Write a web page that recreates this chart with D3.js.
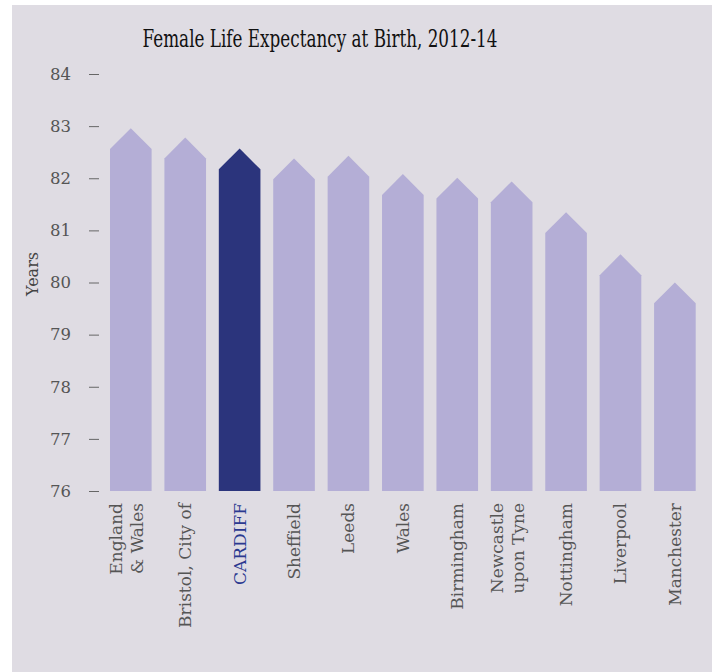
<!DOCTYPE html>
<html>
<head>
<meta charset="utf-8">
<script src="https://cdn.jsdelivr.net/npm/d3@7"></script>
<style>
  html, body { margin: 0; padding: 0; background: #ffffff; }
  svg { display: block; }
  text { font-family: "DejaVu Serif", "Liberation Serif", serif; }
</style>
</head>
<body>
<svg id="chart" width="716" height="672"></svg>
<script>
// ---- data ----
const categories = ["England & Wales", "Bristol, City of", "CARDIFF", "Sheffield", "Leeds", "Wales",
                    "Birmingham", "Newcastle upon Tyne", "Nottingham", "Liverpool", "Manchester"];
const labelLines = [["England", "& Wales"], ["Bristol, City of"], ["CARDIFF"], ["Sheffield"], ["Leeds"], ["Wales"],
                    ["Birmingham"], ["Newcastle", "upon Tyne"], ["Nottingham"], ["Liverpool"], ["Manchester"]];
const values = [82.96, 82.78, 82.57, 82.38, 82.43, 82.08, 82.01, 81.94, 81.35, 80.54, 80.0];
const highlight = "CARDIFF";
const yTicks = [76, 77, 78, 79, 80, 81, 82, 83, 84];
const title = "Female Life Expectancy at Birth, 2012-14";
const yLabel = "Years";

// ---- drawing ----
const svg = d3.select("#chart");
svg.append("rect").attr("x", 12).attr("y", 5).attr("width", 700).attr("height", 667).attr("fill", "#dfdce3");

const x = d3.scaleBand().domain(categories).range([110, 695.7]).paddingInner(0.235).paddingOuter(0);
const y = d3.scaleLinear().domain([76, 84]).range([491, 74]);

const bw = x.bandwidth();
svg.append("g").selectAll("path").data(categories).join("path")
  .attr("d", (c, i) => {
    const x0 = x(c), x1 = x0 + bw, xm = x0 + bw / 2;
    const yb = y(76), yt = y(values[i]), ys = yt + bw / 2;
    return `M${x0},${yb}L${x0},${ys}L${xm},${yt}L${x1},${ys}L${x1},${yb}Z`;
  })
  .attr("fill", c => c === highlight ? "#2b347c" : "#b4aed6");

// y axis
const yAxis = d3.axisLeft(y).tickValues(yTicks).tickSize(10).tickPadding(18).tickFormat(d3.format("d"));
const gy = svg.append("g").attr("transform", "translate(99,0)").call(yAxis);
gy.select(".domain").remove();
gy.selectAll(".tick line").attr("stroke", "#666").attr("stroke-width", 1);
gy.selectAll(".tick text").attr("fill", "#555").style("font-size", "16.5px")
  .style("font-family", "'DejaVu Serif', serif");

// x labels
const gx = svg.append("g");
categories.forEach((c, i) => {
  const lines = labelLines[i];
  const cx = x(c) + bw / 2;
  const t = gx.append("text")
    .attr("transform", `translate(${cx},503) rotate(-90)`)
    .attr("text-anchor", "end")
    .attr("fill", c === highlight ? "#2b3990" : "#555")
    .style("font-size", "17px");
  const n = lines.length;
  lines.forEach((ln, j) => {
    const off = n === 1 ? 6 : (j - (n - 1) / 2) * 21 + 1.5;
    t.append("tspan").attr("x", 0).attr("y", off).text(ln);
  });
});

// title
svg.append("text").attr("x", 320).attr("y", 47).attr("text-anchor", "middle")
  .attr("fill", "#111").style("font-size", "25px")
  .attr("textLength", 355).attr("lengthAdjust", "spacingAndGlyphs")
  .text(title);

// y label
svg.append("text").attr("transform", "translate(38,274) rotate(-90)")
  .attr("text-anchor", "middle").attr("fill", "#444").style("font-size", "16px")
  .text(yLabel);
</script>
</body>
</html>
